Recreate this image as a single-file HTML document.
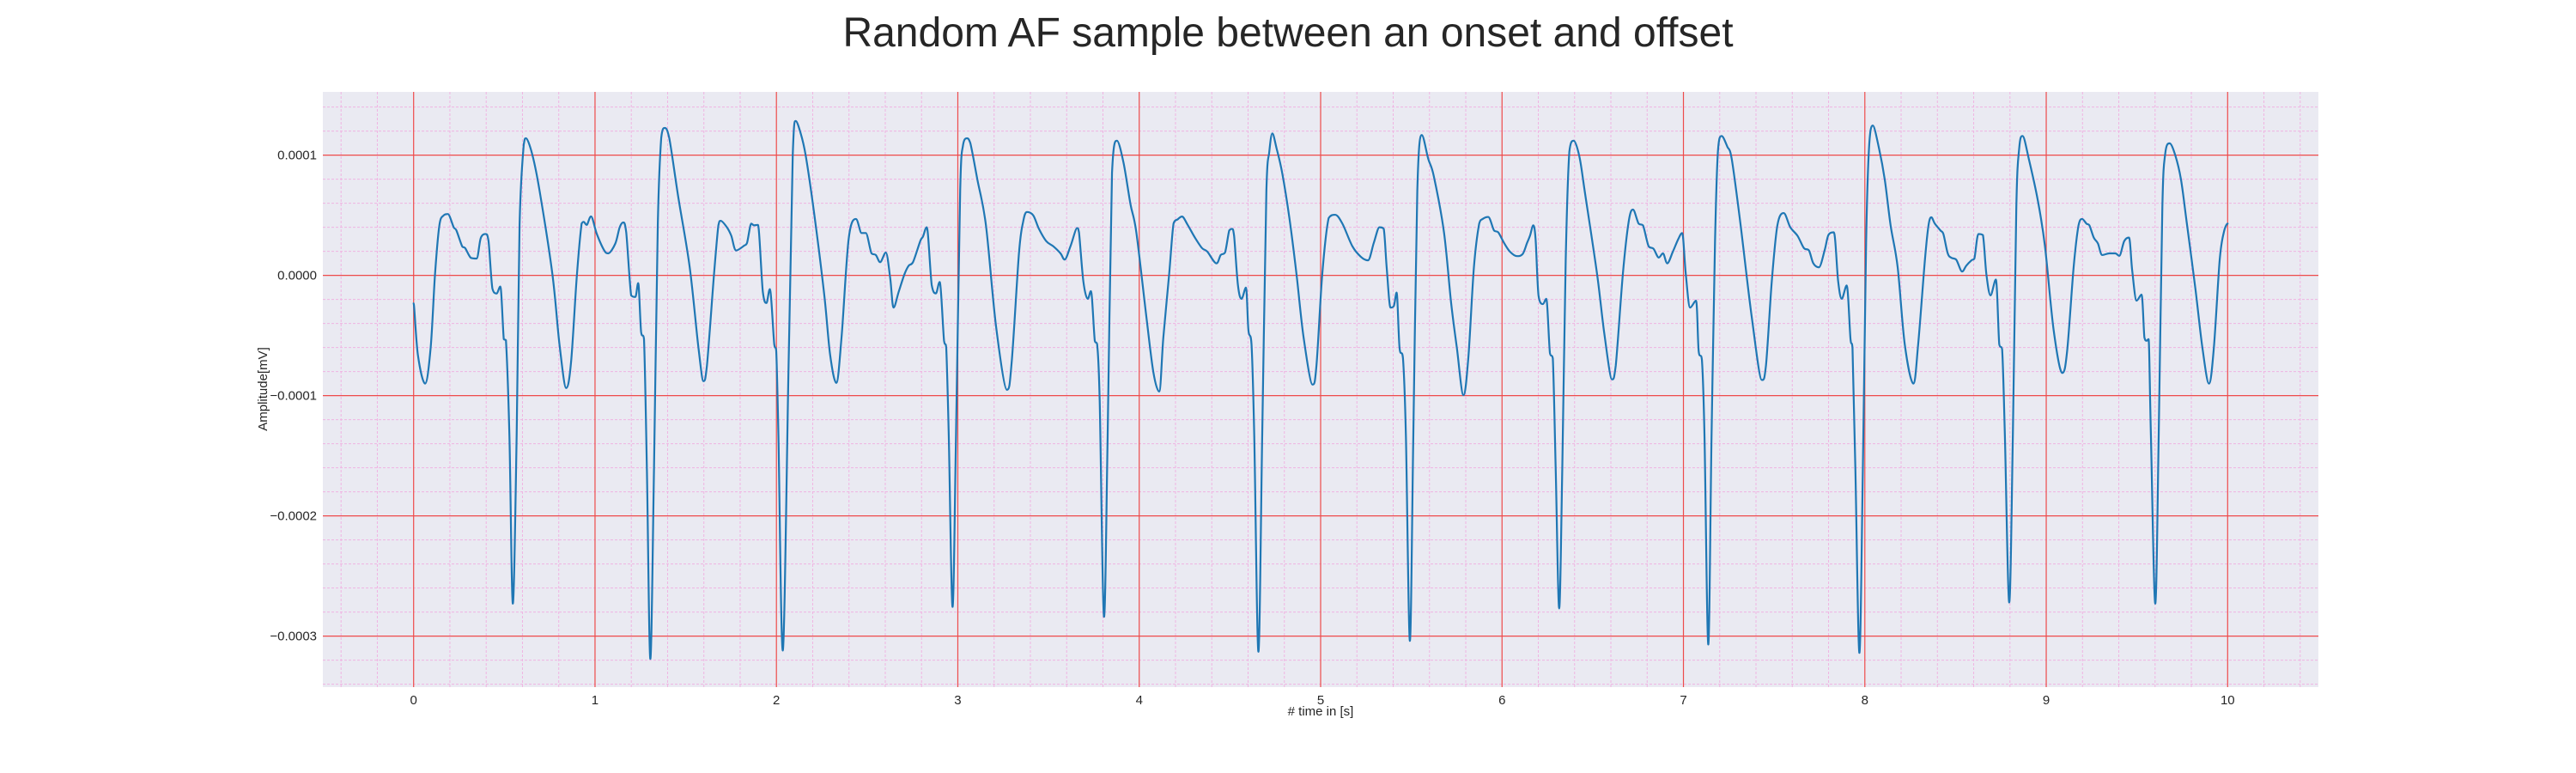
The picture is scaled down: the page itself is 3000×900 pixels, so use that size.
<!DOCTYPE html>
<html><head><meta charset="utf-8">
<style>
html,body{margin:0;padding:0;background:#fff;}
svg{display:block;font-family:"Liberation Sans",Arial,sans-serif;}
</style></head>
<body>
<svg id="chart" width="3000" height="900" viewBox="0 0 3000 900" xmlns="http://www.w3.org/2000/svg">
  <text x="1500" y="54" text-anchor="middle" font-size="48" fill="#262626">Random AF sample between an onset and offset</text>
  <rect x="376" y="107" width="2324" height="693" fill="#eaeaf2"/>
  <g id="grid-minor"></g>
  <g id="grid-major"></g>
  <g id="series"></g>
  <g id="xticks"></g>
  <g id="yticks"></g>
  <text x="1538" y="833" text-anchor="middle" font-size="15" fill="#262626"># time in [s]</text>
  <text x="0" y="0" transform="translate(311,453) rotate(-90)" text-anchor="middle" font-size="15" fill="#262626">Amplitude[mV]</text>
</svg>
<script>
// Data (time in s, amplitude in units of 1e-4 mV)
const times = [0,0.0235,0.063,0.094,0.118,0.142,0.165,0.189,0.221,0.236,0.268,0.284,0.315,0.347,0.37,0.397,0.413,0.434,0.457,0.478,0.497,0.509,0.528,0.547,0.568,0.584,0.607,0.62,0.655,0.694,0.765,0.804,0.841,0.868,0.899,0.926,0.938,0.954,0.978,1.01,1.049,1.073,1.112,1.136,1.156,1.172,1.199,1.222,1.238,1.254,1.27,1.286,1.305,1.325,1.346,1.365,1.384,1.409,1.459,1.522,1.57,1.598,1.617,1.656,1.68,1.693,1.727,1.751,1.778,1.822,1.838,1.861,1.877,1.898,1.925,1.945,1.964,1.988,1.999,2.011,2.035,2.067,2.09,2.106,2.13,2.161,2.209,2.264,2.296,2.33,2.359,2.398,2.438,2.469,2.493,2.524,2.548,2.572,2.603,2.627,2.646,2.674,2.706,2.729,2.753,2.793,2.808,2.829,2.856,2.879,2.9,2.924,2.936,2.95,2.971,2.99,3.013,3.029,3.05,3.069,3.108,3.155,3.211,3.271,3.297,3.337,3.36,3.381,3.416,3.447,3.487,3.526,3.566,3.589,3.621,3.657,3.668,3.692,3.716,3.734,3.755,3.768,3.782,3.806,3.826,3.85,3.877,3.913,3.952,3.984,4.039,4.078,4.11,4.133,4.165,4.189,4.212,4.236,4.267,4.307,4.346,4.375,4.425,4.449,4.473,4.496,4.512,4.523,4.544,4.564,4.588,4.602,4.619,4.634,4.657,4.678,4.701,4.717,4.734,4.757,4.788,4.828,4.867,4.906,4.955,4.977,5.009,5.044,5.08,5.12,5.175,5.222,5.261,5.293,5.324,5.348,5.364,5.385,5.404,5.419,5.435,5.454,5.47,5.492,5.511,5.533,5.558,5.593,5.624,5.68,5.719,5.751,5.787,5.814,5.845,5.874,5.893,5.924,5.956,5.979,6.011,6.043,6.082,6.114,6.138,6.154,6.172,6.185,6.201,6.225,6.244,6.264,6.28,6.296,6.315,6.332,6.351,6.371,6.395,6.427,6.458,6.524,6.564,6.606,6.627,6.666,6.698,6.722,6.753,6.777,6.808,6.835,6.864,6.887,6.911,6.942,6.971,6.993,7.013,7.037,7.069,7.084,7.102,7.116,7.137,7.155,7.174,7.19,7.211,7.242,7.266,7.313,7.376,7.432,7.455,7.487,7.518,7.553,7.589,7.629,7.664,7.692,7.716,7.747,7.779,7.799,7.829,7.853,7.873,7.9,7.921,7.932,7.948,7.97,7.989,8.007,8.023,8.044,8.078,8.11,8.142,8.181,8.22,8.267,8.294,8.331,8.351,8.367,8.386,8.417,8.433,8.457,8.477,8.504,8.536,8.559,8.588,8.604,8.626,8.651,8.67,8.693,8.722,8.741,8.757,8.772,8.796,8.816,8.835,8.851,8.87,8.906,8.954,8.993,9.041,9.088,9.115,9.151,9.178,9.198,9.222,9.238,9.262,9.285,9.309,9.348,9.38,9.403,9.43,9.456,9.474,9.498,9.525,9.541,9.553,9.564,9.577,9.601,9.62,9.64,9.656,9.68,9.711,9.743,9.774,9.822,9.861,9.897,9.924,9.956,9.979,10.0];
const amplitudes = [-0.233,-0.661,-0.90,-0.60,0.01,0.416,0.498,0.51,0.40,0.373,0.24,0.227,0.146,0.14,0.31,0.344,0.285,-0.108,-0.151,-0.093,-0.53,-0.54,-1.33,-2.73,-1.33,0.416,1.086,1.14,1.0,0.707,0.01,-0.573,-0.937,-0.72,-0.02,0.43,0.445,0.42,0.49,0.344,0.212,0.183,0.265,0.40,0.44,0.358,-0.166,-0.18,-0.064,-0.47,-0.53,-1.62,-3.19,-1.62,0.416,1.144,1.226,1.144,0.65,0.067,-0.60,-0.88,-0.75,0.01,0.416,0.454,0.40,0.33,0.207,0.247,0.27,0.43,0.416,0.42,-0.137,-0.23,-0.114,-0.573,-0.63,-1.33,-3.12,-0.75,1.0,1.284,1.20,1.0,0.504,-0.166,-0.66,-0.894,-0.515,0.30,0.469,0.352,0.352,0.183,0.169,0.11,0.19,-0.02,-0.268,-0.137,0.01,0.08,0.11,0.285,0.323,0.40,-0.08,-0.15,-0.055,-0.544,-0.60,-1.33,-2.757,-1.33,0.707,1.086,1.14,1.10,0.795,0.416,-0.428,-0.952,-0.72,0.183,0.445,0.527,0.498,0.387,0.285,0.242,0.183,0.131,0.242,0.393,0.358,-0.05,-0.195,-0.131,-0.544,-0.573,-1.04,-2.84,-1.33,0.853,1.12,0.94,0.59,0.358,-0.34,-0.806,-0.966,-0.515,0.01,0.43,0.466,0.489,0.42,0.314,0.227,0.198,0.10,0.169,0.19,0.373,0.387,0.329,-0.08,-0.195,-0.102,-0.457,-0.573,-1.33,-3.13,-1.33,0.707,1.028,1.18,1.057,0.853,0.475,0.01,-0.515,-0.908,-0.75,0.01,0.475,0.504,0.43,0.242,0.154,0.125,0.27,0.40,0.387,0.067,-0.268,-0.253,-0.143,-0.603,-0.69,-1.33,-3.04,-1.33,0.707,1.167,0.97,0.824,0.358,-0.224,-0.603,-0.996,-0.69,0.067,0.43,0.469,0.486,0.373,0.358,0.27,0.198,0.16,0.178,0.27,0.329,0.416,0.30,-0.166,-0.239,-0.195,-0.646,-0.69,-1.62,-2.77,-1.62,0.125,1.028,1.12,0.984,0.678,0.01,-0.486,-0.865,-0.75,0.01,0.445,0.547,0.43,0.416,0.242,0.221,0.148,0.183,0.10,0.198,0.30,0.352,0.01,-0.268,-0.21,-0.63,-0.705,-1.33,-3.07,-1.33,0.27,1.028,1.159,1.07,0.97,0.445,-0.34,-0.87,-0.75,-0.05,0.416,0.518,0.40,0.329,0.227,0.207,0.10,0.067,0.212,0.335,0.358,-0.05,-0.195,-0.084,-0.53,-0.603,-1.62,-3.14,-1.62,0.27,1.057,1.246,1.057,0.795,0.416,0.067,-0.573,-0.90,-0.573,0.125,0.416,0.483,0.43,0.373,0.344,0.183,0.146,0.13,0.032,0.08,0.125,0.14,0.344,0.335,0.01,-0.166,-0.035,-0.573,-0.617,-1.33,-2.72,-1.33,0.56,1.057,1.159,0.955,0.62,0.242,-0.457,-0.812,-0.632,0.067,0.416,0.469,0.43,0.416,0.314,0.265,0.169,0.183,0.183,0.163,0.285,0.314,0.038,-0.21,-0.16,-0.515,-0.544,-0.53,-1.33,-2.73,-1.33,0.56,1.013,1.098,1.0,0.795,0.445,-0.108,-0.603,-0.90,-0.603,0.125,0.358,0.43];
const xTickValues = [0,1,2,3,4,5,6,7,8,9,10];
const yTickValues = [1,0,-1,-2,-3];
const yTickLabels = ["0.0001","0.0000","\u22120.0001","\u22120.0002","\u22120.0003"];

const X0 = 481.7, XS = 211.26, Y0 = 320.6, YS = 140;
function xScale(t){ return X0 + t*XS; }
function yScale(v){ return Y0 - v*YS; }
const NS = "http://www.w3.org/2000/svg";
const L = 376, R = 2700, T = 107, B = 800;

const gMin = document.getElementById('grid-minor');
for (let i = -2; i <= 52; i++) {
  if (i % 5 === 0) continue;
  const x = xScale(i*0.2);
  if (x < L || x > R) continue;
  const ln = document.createElementNS(NS,'line');
  
  
  ln.setAttribute('x1',x);ln.setAttribute('x2',x);ln.setAttribute('y1',T);ln.setAttribute('y2',B);
  ln.setAttribute('stroke','#f0b4e2');ln.setAttribute('stroke-width','1');ln.setAttribute('stroke-dasharray','3,2');
  gMin.appendChild(ln);
}
for (let i = -18; i <= 8; i++) {
  if (i % 5 === 0) continue;
  const y = yScale(i*0.2);
  if (y < T || y > B) continue;
  const ln = document.createElementNS(NS,'line');
  
  
  ln.setAttribute('x1',L);ln.setAttribute('x2',R);ln.setAttribute('y1',y);ln.setAttribute('y2',y);
  ln.setAttribute('stroke','#f0b4e2');ln.setAttribute('stroke-width','1');ln.setAttribute('stroke-dasharray','3,2');
  gMin.appendChild(ln);
}
const gMaj = document.getElementById('grid-major');
const gx = document.getElementById('xticks');
xTickValues.forEach(t => {
  const x = xScale(t);
  const ln = document.createElementNS(NS,'line');
  
  
  ln.setAttribute('x1',x);ln.setAttribute('x2',x);ln.setAttribute('y1',T);ln.setAttribute('y2',B);
  ln.setAttribute('stroke','#ee4b4b');ln.setAttribute('stroke-width','1.2');
  gMaj.appendChild(ln);
  const tx = document.createElementNS(NS,'text');
  
  
  tx.setAttribute('x',x);tx.setAttribute('y',820);tx.setAttribute('text-anchor','middle');
  tx.setAttribute('font-size','15');tx.setAttribute('fill','#262626');
  tx.textContent = String(t);
  gx.appendChild(tx);
});
const gy = document.getElementById('yticks');
yTickValues.forEach((v,i) => {
  const y = yScale(v);
  const ln = document.createElementNS(NS,'line');
  
  
  ln.setAttribute('x1',L);ln.setAttribute('x2',R);ln.setAttribute('y1',y);ln.setAttribute('y2',y);
  ln.setAttribute('stroke','#ee4b4b');ln.setAttribute('stroke-width','1.2');
  gMaj.appendChild(ln);
  const tx = document.createElementNS(NS,'text');
  
  
  tx.setAttribute('x',369);tx.setAttribute('y',y+5);tx.setAttribute('text-anchor','end');
  tx.setAttribute('font-size','15');tx.setAttribute('fill','#262626');
  tx.textContent = yTickLabels[i];
  gy.appendChild(tx);
});
// Smooth path (monotone-ish Catmull-Rom with clamped handles)
const P = times.map((t,i) => [xScale(t), yScale(amplitudes[i])]);
let d = 'M' + P[0][0].toFixed(2) + ',' + P[0][1].toFixed(2);
for (let i = 0; i < P.length - 1; i++) {
  const p0 = P[Math.max(0,i-1)], p1 = P[i], p2 = P[i+1], p3 = P[Math.min(P.length-1,i+2)];
  const k = 1/6;
  let c1x = p1[0] + (p2[0]-p0[0])*k, c1y = p1[1] + (p2[1]-p0[1])*k;
  let c2x = p2[0] - (p3[0]-p1[0])*k, c2y = p2[1] - (p3[1]-p1[1])*k;
  const lo = Math.min(p1[1],p2[1]), hi = Math.max(p1[1],p2[1]);
  const isExt1 = (p1[1]-p0[1])*(p2[1]-p1[1]) <= 0;
  const isExt2 = (p2[1]-p1[1])*(p3[1]-p2[1]) <= 0;
  if (isExt1) c1y = p1[1];
  if (isExt2) c2y = p2[1];
  c1y = Math.min(hi, Math.max(lo, c1y));
  c2y = Math.min(hi, Math.max(lo, c2y));
  d += ' C' + c1x.toFixed(2) + ',' + c1y.toFixed(2) + ' ' + c2x.toFixed(2) + ',' + c2y.toFixed(2) + ' ' + p2[0].toFixed(2) + ',' + p2[1].toFixed(2);
}
const pl = document.createElementNS(NS,'path');


pl.setAttribute('d',d);pl.setAttribute('fill','none');
pl.setAttribute('stroke','#1f77b4');pl.setAttribute('stroke-width','2.2');
pl.setAttribute('stroke-linejoin','round');pl.setAttribute('stroke-linecap','round');
document.getElementById('series').appendChild(pl);
</script>
</body></html>
